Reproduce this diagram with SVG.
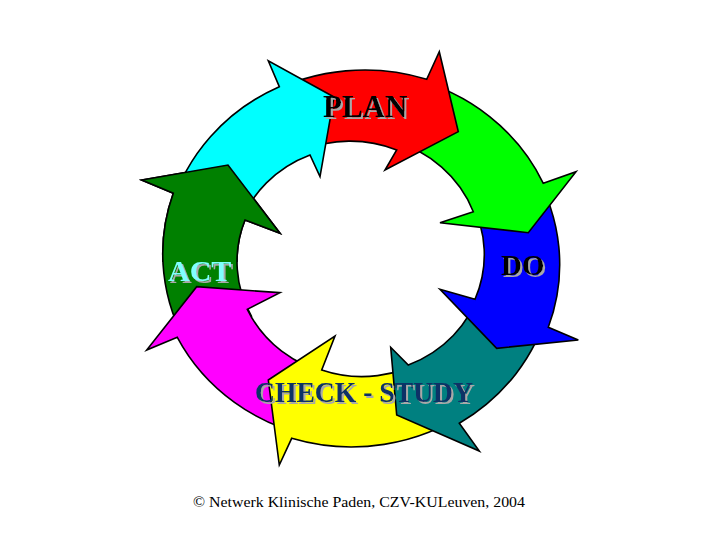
<svg xmlns="http://www.w3.org/2000/svg" width="720" height="540" viewBox="0 0 720 540">
<style>
.arr{stroke:#000;stroke-width:1.6;stroke-linejoin:miter}
.lbl{font-family:"Liberation Serif","Times New Roman",serif;font-weight:bold;filter:url(#shadow)}
.foot{font-family:"Liberation Serif","Times New Roman",serif;font-size:15px;fill:#000}
</style>
<defs>
<filter id="shadow" x="-10%" y="-20%" width="130%" height="150%">
<feDropShadow dx="2" dy="2" stdDeviation="0" flood-color="#A8A8A8" flood-opacity="1"/>
</filter>
<path id="pDkGreen" d="M190.3,349.5 A200,189 0 0 1 173.3,193.3 L141.7,180 L228,165 L280,233.3 L245,220 A121,116 0 0 0 251.8,317"/>
<clipPath id="clipTop"><rect x="100" y="100" width="220" height="162"/></clipPath>
</defs>
<rect width="720" height="540" fill="#fff"/>
<g id="connectors"></g>
<g id="act-arrow"><use href="#pDkGreen" class="arr" fill="#008000"/></g>
<g id="magenta-arrow"><path class="arr" fill="#FF00FF" d="M315.9,437.3 A200,189 0 0 1 177.3,337.3 L146.7,350 L196.7,286.7 L280,292.7 L247.3,309.3 A121,116 0 0 0 331.9,373.9"/></g>
<g id="check-arrow"><path class="arr" fill="#FFFF00" d="M469.6,410.4 A200,189 0 0 1 291.7,438.3 L279.3,465 L268.3,380 L335,336 L321.7,370 A121,116 0 0 0 429.9,356.5"/></g>
<g id="study-arrow"><path class="arr" fill="#008080" d="M548.4,308 A200,189 0 0 1 459.3,423.3 L479.3,451 L396.7,415 L390.7,347.3 L408.3,365 A121,116 0 0 0 480.2,290.1"/></g>
<g id="do-arrow"><path class="arr" fill="#0000FF" d="M533,170.1 A200,189 0 0 1 548.3,327.3 L578.3,340 L496.7,348.3 L440,289.3 L475,299.3 A121,116 0 0 0 470.4,200.7"/></g>
<g id="green-arrow"><path class="arr" fill="#00FF00" d="M410.7,78.3 A200,189 0 0 1 543.3,183.3 L576,171.7 L528.3,232.7 L440,222.7 L473.3,211.7 A121,116 0 0 0 392.4,141.1"/></g>
<g id="plan-arrow"><path class="arr" fill="#FF0000" d="M268,93.7 A200,189 0 0 1 426.7,79.3 L439.3,51.7 L458.3,131.7 L385,170 L396.7,150 A121,116 0 0 0 301.3,151.1"/></g>
<g id="cyan-arrow"><path class="arr" fill="#00FFFF" d="M170.7,209.1 A200,189 0 0 1 279.3,86.7 L268.3,60.7 L334,97 L320,176.7 L310,155 A121,116 0 0 0 239.3,225.9"/></g>
<g id="act-arrow-head" clip-path="url(#clipTop)"><use href="#pDkGreen" class="arr" fill="#008000"/></g>
<g id="labels">
<text class="lbl" x="323" y="117" font-size="31" fill="#000">PLAN</text>
<text class="lbl" x="501" y="275" font-size="29" fill="#000">DO</text>
<text class="lbl" x="168" y="281" font-size="30" fill="#80FFFF">ACT</text>
<text class="lbl" x="255" y="402" font-size="29" fill="#0B3366" textLength="218" lengthAdjust="spacingAndGlyphs">CHECK - STUDY</text>
</g>
<text class="foot" x="193" y="507" textLength="332" lengthAdjust="spacingAndGlyphs">© Netwerk Klinische Paden, CZV-KULeuven, 2004</text>
</svg>
